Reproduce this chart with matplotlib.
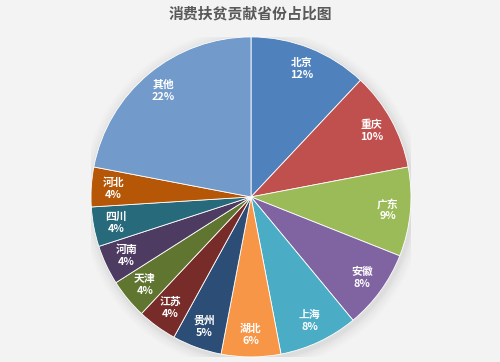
import numpy as np
import matplotlib.pyplot as plt

plt.rcParams['font.family'] = ['Noto Sans CJK SC', 'DejaVu Sans']

provinces = ['北京', '重庆', '广东', '安徽', '上海', '湖北', '贵州',
             '江苏', '天津', '河南', '四川', '河北', '其他']
shares = [12, 10, 9, 8, 8, 6, 5, 4, 4, 4, 4, 4, 22]
colors = ['#4F81BD', '#C0504D', '#9BBB59', '#8064A2', '#4BACC6', '#F79646',
          '#2C4D75', '#772C2A', '#5F7530', '#4D3B62', '#276A7C', '#B65708',
          '#729ACA']

fig = plt.figure(figsize=(5, 3.62), dpi=100)
fig.patch.set_facecolor('#f3f3f3')

fig.text(0.5, 0.962, '消费扶贫贡献省份占比图', ha='center', va='center',
         fontsize=10.7, fontweight='bold', color='#595959')

ax = fig.add_axes([0.182, 0.014, 0.64, 0.884])
ax.set_facecolor('none')

# soft shadow behind the pie
for i, a in enumerate(np.linspace(0.05, 0.01, 6)):
    ax.add_patch(plt.Circle((0.01, -0.015), 1.0 + 0.012 * (i + 1),
                            color='#888888', alpha=a, lw=0, zorder=0))

wedges, _ = ax.pie(shares, colors=colors, startangle=90, counterclock=False,
                   radius=1.0, wedgeprops=dict(edgecolor='white', linewidth=0.6))

for w, name, s in zip(wedges, provinces, shares):
    ang = np.deg2rad((w.theta1 + w.theta2) / 2)
    r = 0.86
    ax.text(r * np.cos(ang), r * np.sin(ang), f'{name}\n{s}%',
            ha='center', va='center', fontsize=7.8, fontweight='bold',
            color='white', linespacing=1.25)

ax.set_xlim(-1, 1)
ax.set_ylim(-1, 1)
ax.set_aspect('equal')
ax.axis('off')

fig.savefig('out.png', dpi=100, facecolor=fig.get_facecolor())
